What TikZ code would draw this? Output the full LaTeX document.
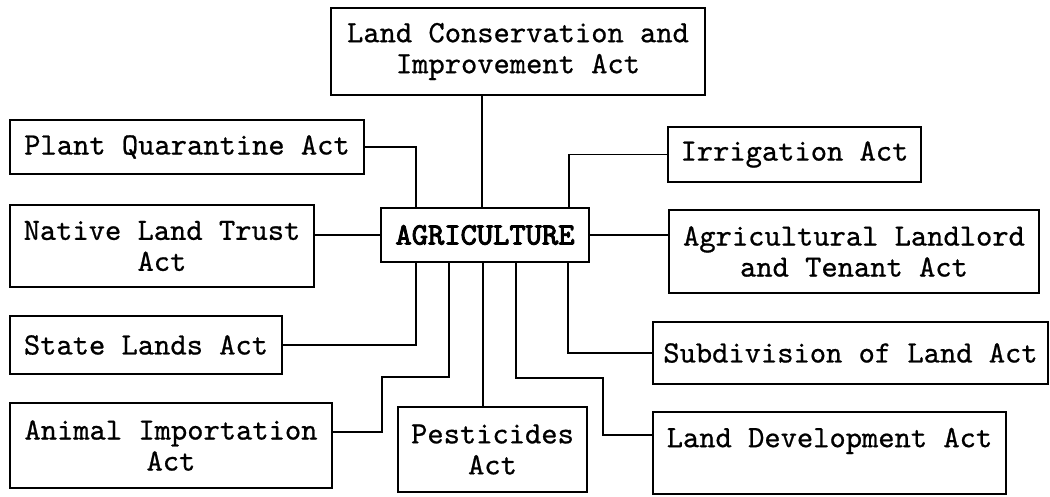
\documentclass[tikz,border=0pt]{standalone}
\usepackage{fontspec}
\newfontfamily\actfont[FakeBold=0.7]{lmmono10-regular.otf}
\newfontfamily\hubfont[FakeBold=3]{lmmono10-regular.otf}
\usepackage{tikz}
\tikzstyle{act}=[rectangle,draw=black,line width=1.6pt,inner sep=0pt,align=center,
  font=\actfont\fontsize{31}{31}\selectfont]
\tikzstyle{hub}=[act,font=\hubfont\fontsize{31}{31}\selectfont]
\tikzstyle{link}=[line width=1.6pt]

\begin{document}
\begin{tikzpicture}[x=1pt,y=-1pt]
    \useasboundingbox (0,0) rectangle (1050,496);
    \node [style=hub, minimum width=208, minimum height=54] (agri) at (485,235) {AGRICULTURE};
    \node [style=act, minimum width=374, minimum height=87] (lca) at (518,51.5) {Land Conservation and\\Improvement Act};
    \node [style=act, minimum width=354, minimum height=54] (pqa) at (187,147) {Plant Quarantine Act};
    \node [style=act, minimum width=304, minimum height=82] (nlt) at (162,246) {Native Land Trust\\Act};
    \node [style=act, minimum width=272, minimum height=58] (sla) at (146,345) {State Lands Act};
    \node [style=act, minimum width=322, minimum height=85] (aia) at (171,445.5) {Animal Importation\\Act};
    \node [style=act, minimum width=189, minimum height=85] (pes) at (492.5,449.5) {Pesticides\\Act};
    \node [style=act, minimum width=253, minimum height=55] (irr) at (794.5,154.5) {Irrigation Act};
    \node [style=act, minimum width=370, minimum height=83] (altl) at (854,251.5) {Agricultural Landlord\\and Tenant Act};
    \node [style=act, minimum width=395, minimum height=62] (sol) at (850.5,353) {Subdivision of Land Act};
    \node [style=act, minimum width=353, minimum height=82] (ldev) at (829.5,453) {Land Development Act\\\mbox{}};
    \coordinate (n1) at (416,208);
    \coordinate (n2) at (482,208);
    \coordinate (n3) at (569,208);
    \coordinate (s1) at (416,262);
    \coordinate (s2) at (449,262);
    \coordinate (s3) at (483,262);
    \coordinate (s4) at (516,262);
    \coordinate (s5) at (568,262);
    \coordinate (b2) at (382,377);
    \coordinate (b4) at (603,378);
    \draw [style=link] (n2) to (n2 |- lca.south);
    \draw [style=link] (pqa.east) -| (n1);
    \draw [style=link] (nlt.east |- agri) to (agri.west);
    \draw [style=link] (irr.west) -| (n3);
    \draw [style=link] (agri.east) to (agri.east -| altl.west);
    \draw [style=link] (s5) |- (sol.west);
    \draw [style=link] (s4) |- (b4) |- (ldev.west |- 0,435);
    \draw [style=link] (s3) to (s3 |- pes.north);
    \draw [style=link] (s2) |- (b2) |- (aia.east |- 0,432);
    \draw [style=link] (s1) |- (sla.east);
  \end{tikzpicture}
\end{document}
